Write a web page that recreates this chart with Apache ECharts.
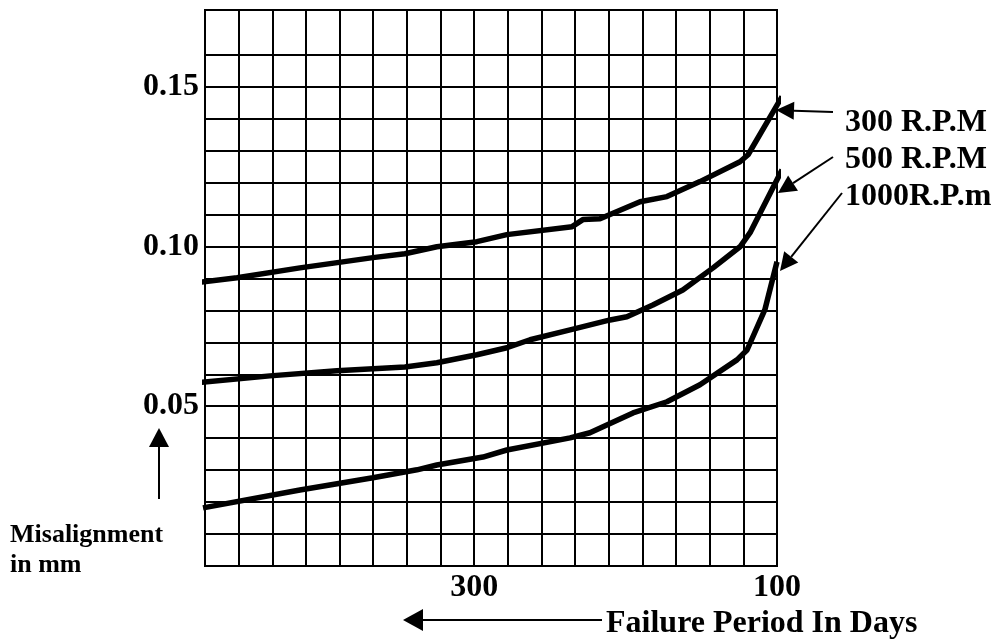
<!DOCTYPE html>
<html>
<head>
<meta charset="utf-8">
<script src="https://cdn.jsdelivr.net/npm/echarts@6/dist/echarts.min.js"></script>
<style>
html,body{margin:0;padding:0;background:#fff;}
#chart{width:998px;height:639px;}
</style>
</head>
<body>
<div id="chart"></div>
<script>
// x: position along graph paper in grid columns (0 = left border, 17 = 100 days)
const xTickIdx = [8, 17];
const xTickLabels = ['300', '100'];
const yTickVals = [0.05, 0.10, 0.15];
const yTickLabels = ['0.05', '0.10', '0.15'];

const rpm300X = [-0.30, 0.95, 2.82, 4.99, 5.94, 6.89, 8.08, 8.97, 10.91, 11.23, 11.74, 12.93, 13.73, 14.71, 15.90, 16.14, 17.15];
const rpm300Y = [0.0886, 0.0902, 0.0933, 0.0965, 0.0977, 0.0999, 0.1015, 0.1037, 0.1062, 0.1084, 0.1087, 0.1140, 0.1156, 0.1203, 0.1265, 0.1287, 0.1469];

const rpm500X = [-0.30, 1.93, 3.92, 5.94, 6.89, 8.08, 8.97, 9.66, 10.85, 12.04, 12.54, 13.31, 14.20, 15.10, 15.90, 16.20, 17.15];
const rpm500Y = [0.0573, 0.0595, 0.0611, 0.0623, 0.0636, 0.0661, 0.0683, 0.0708, 0.0739, 0.0770, 0.0780, 0.0817, 0.0864, 0.0933, 0.0999, 0.1043, 0.1240];

const rpm1000X = [-0.06, 2.82, 4.99, 6.30, 6.89, 8.26, 8.97, 10.85, 11.44, 12.72, 13.73, 14.71, 15.81, 16.11, 16.64, 17.00];
const rpm1000Y = [0.0182, 0.0238, 0.0276, 0.0301, 0.0316, 0.0341, 0.0363, 0.0401, 0.0417, 0.0479, 0.0514, 0.0567, 0.0645, 0.0676, 0.0802, 0.0952];

const seriesNames = ['300 R.P.M', '500 R.P.M', '1000R.P.m'];

function pairs(xs, ys) { return xs.map((x, i) => [x, ys[i]]); }

const FONT = '"Liberation Serif", "Times New Roman", serif';

// y split line colours: 0 .. 0.16 black, 0.17 hidden, top border black
const yLineColors = [];
for (let i = 0; i <= 16; i++) yLineColors.push('#000');
yLineColors.push('rgba(0,0,0,0)');
yLineColors.push('#000');

function arrow(x1, y1, x2, y2, L, W) {
  const dx = x2 - x1, dy = y2 - y1;
  const len = Math.sqrt(dx * dx + dy * dy);
  const ux = dx / len, uy = dy / len;
  const bx = x2 - ux * L, by = y2 - uy * L;
  const nx = -uy, ny = ux;
  return [
    { type: 'line', shape: { x1: x1, y1: y1, x2: bx, y2: by }, style: { stroke: '#000', lineWidth: 2 } },
    { type: 'polygon', shape: { points: [[x2, y2], [bx + nx * W, by + ny * W], [bx - nx * W, by - ny * W]] }, style: { fill: '#000' } }
  ];
}

function label(text, x, y, size, align) {
  return { type: 'text', style: { text: text, x: x, y: y, font: 'bold ' + size + 'px ' + FONT, fill: '#000', textAlign: align || 'left', textVerticalAlign: 'middle' } };
}

const graphics = [].concat(
  arrow(833, 112, 776, 110, 18, 9),
  arrow(833, 157, 778, 193, 18, 9),
  arrow(842, 193, 780, 271, 18, 9),
  arrow(159, 499, 159, 428, 19, 10),
  arrow(602, 620, 403, 620, 20, 11),
  [
    label(seriesNames[0], 845, 123, 32),
    label(seriesNames[1], 845, 160, 32),
    label(seriesNames[2], 845, 197, 32),
    label('Misalignment', 10, 535, 26),
    label('in mm', 10, 565, 26),
    label('Failure Period In Days', 606, 624, 32)
  ]
);

const chart = echarts.init(document.getElementById('chart'), null, { renderer: 'canvas' });
chart.setOption({
  animation: false,
  backgroundColor: '#fff',
  grid: { left: 205, right: 221, top: 10, bottom: 73, show: true, borderColor: '#000', borderWidth: 2, backgroundColor: 'transparent' },
  xAxis: {
    type: 'value', min: 0, max: 17, interval: 1,
    axisLine: { show: false }, axisTick: { show: false },
    splitLine: { show: true, lineStyle: { color: '#000', width: 2 } },
    axisLabel: {
      showMaxLabel: true, showMinLabel: true, margin: 6,
      color: '#000', fontFamily: FONT, fontWeight: 'bold', fontSize: 32,
      formatter: function (v) { const i = xTickIdx.indexOf(Math.round(v)); return (i >= 0 && Math.abs(v - Math.round(v)) < 1e-6) ? xTickLabels[i] : ''; }
    }
  },
  yAxis: {
    type: 'value', min: 0, max: 0.174, interval: 0.01,
    axisLine: { show: false }, axisTick: { show: false },
    splitLine: { show: true, lineStyle: { color: yLineColors, width: 2 } },
    axisLabel: {
      showMaxLabel: true, margin: 6,
      color: '#000', fontFamily: FONT, fontWeight: 'bold', fontSize: 32,
      formatter: function (v) { for (let i = 0; i < yTickVals.length; i++) { if (Math.abs(v - yTickVals[i]) < 1e-6) return yTickLabels[i]; } return ''; }
    }
  },
  series: [
    { name: seriesNames[0], type: 'line', data: pairs(rpm300X, rpm300Y), showSymbol: false, clip: false, lineStyle: { color: '#000', width: 5.5 }, z: 5 },
    { name: seriesNames[1], type: 'line', data: pairs(rpm500X, rpm500Y), showSymbol: false, clip: false, lineStyle: { color: '#000', width: 5.5 }, z: 5 },
    { name: seriesNames[2], type: 'line', data: pairs(rpm1000X, rpm1000Y), showSymbol: false, clip: false, lineStyle: { color: '#000', width: 5.5 }, z: 5 }
  ],
  graphic: graphics
});
</script>
</body>
</html>
